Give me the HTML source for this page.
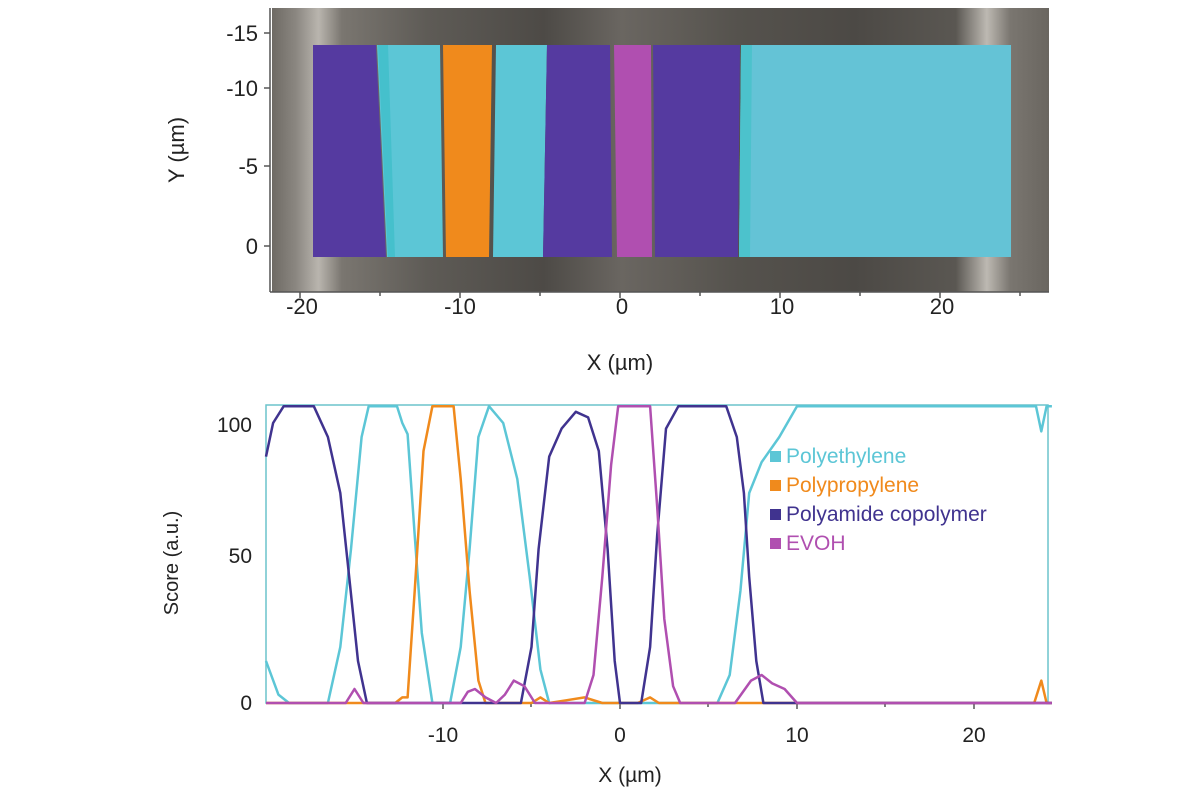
<!DOCTYPE html>
<html><head><meta charset="utf-8"><style>
body{margin:0;background:#fff;width:1200px;height:800px;overflow:hidden}
svg{display:block}
text{font-family:"Liberation Sans",sans-serif}
</style></head><body>
<svg id="s" width="1200" height="800" viewBox="0 0 1200 800">
<defs>
<linearGradient id="bg" x1="0" x2="1" y1="0" y2="0">
<stop offset="0" stop-color="#6e6a64"/>
<stop offset="0.03" stop-color="#8a8680"/>
<stop offset="0.06" stop-color="#b9b5ae"/>
<stop offset="0.09" stop-color="#7a7670"/>
<stop offset="0.2" stop-color="#5e5b56"/>
<stop offset="0.35" stop-color="#4d4a46"/>
<stop offset="0.45" stop-color="#6a6661"/>
<stop offset="0.6" stop-color="#55524d"/>
<stop offset="0.75" stop-color="#4c4945"/>
<stop offset="0.88" stop-color="#5a5752"/>
<stop offset="0.92" stop-color="#bdb9b2"/>
<stop offset="0.95" stop-color="#7a7670"/>
<stop offset="1" stop-color="#6a6660"/>
</linearGradient>
</defs>
<rect x="272" y="8" width="777" height="284" fill="url(#bg)"/>
<polygon points="313,45 376,45 386,257 313,257" fill="#553aa0"/>
<polygon points="377,45 440,45 443,257 387,257" fill="#5cc6d6"/>
<polygon points="378,45 388,45 395,257 388,257" fill="#45c0cc"/>
<polygon points="443,45 492,45 489,257 446,257" fill="#f08a1c"/>
<polygon points="496,45 547,45 543,257 493,257" fill="#5cc6d6"/>
<polygon points="547,45 610,45 612,257 543,257" fill="#553aa0"/>
<polygon points="614,45 651,45 652,257 617,257" fill="#b04fb0"/>
<polygon points="653,45 740,45 738,257 655,257" fill="#553aa0"/>
<polygon points="741,45 1011,45 1011,257 739,257" fill="#64c3d6"/>
<polygon points="741,45 752,45 750,257 739,257" fill="#4cc2cc"/>
<g stroke="#555" stroke-width="1.5">
<line x1="270" y1="8" x2="270" y2="292"/>
<line x1="270" y1="292" x2="1049" y2="292"/>
<line x1="264" y1="33" x2="270" y2="33"/><line x1="264" y1="88" x2="270" y2="88"/>
<line x1="264" y1="166" x2="270" y2="166"/><line x1="264" y1="246" x2="270" y2="246"/>
<line x1="300" y1="292" x2="300" y2="298"/><line x1="460" y1="292" x2="460" y2="298"/>
<line x1="620" y1="292" x2="620" y2="298"/><line x1="780" y1="292" x2="780" y2="298"/>
<line x1="940" y1="292" x2="940" y2="298"/>
<line x1="380" y1="292" x2="380" y2="296"/><line x1="540" y1="292" x2="540" y2="296"/>
<line x1="700" y1="292" x2="700" y2="296"/><line x1="860" y1="292" x2="860" y2="296"/>
<line x1="1020" y1="292" x2="1020" y2="296"/>
</g>
<g font-size="22" fill="#222" text-anchor="end">
<text x="258" y="41">-15</text><text x="258" y="96">-10</text>
<text x="258" y="174">-5</text><text x="258" y="254">0</text>
</g>
<g font-size="22" fill="#222" text-anchor="middle">
<text x="302" y="314">-20</text><text x="460" y="314">-10</text>
<text x="622" y="314">0</text><text x="782" y="314">10</text><text x="942" y="314">20</text>
<text x="620" y="370">X (µm)</text>
</g>
<text font-size="22" fill="#222" text-anchor="middle" transform="translate(184,150) rotate(-90)">Y (µm)</text>

<rect x="266" y="405" width="782" height="298" fill="#fff" stroke="#6cc4cc" stroke-width="1.5"/>
<g stroke="#555" stroke-width="1.5">
<line x1="266" y1="703" x2="1048" y2="703"/>
<line x1="443" y1="703" x2="443" y2="709"/><line x1="620" y1="703" x2="620" y2="709"/>
<line x1="797" y1="703" x2="797" y2="709"/><line x1="974" y1="703" x2="974" y2="709"/>
<line x1="531" y1="703" x2="531" y2="707"/><line x1="708" y1="703" x2="708" y2="707"/>
<line x1="885" y1="703" x2="885" y2="707"/>
</g>
<g font-size="21" fill="#222" text-anchor="end">
<text x="252" y="432">100</text><text x="252" y="563">50</text><text x="252" y="710">0</text>
</g>
<g font-size="21" fill="#222" text-anchor="middle">
<text x="443" y="742">-10</text><text x="620" y="742">0</text>
<text x="797" y="742">10</text><text x="974" y="742">20</text>
<text x="630" y="782">X (µm)</text>
</g>
<text font-size="20" fill="#222" text-anchor="middle" transform="translate(178,563) rotate(-90)">Score (a.u.)</text>
<g id="curves" fill="none" stroke-width="2.5" stroke-linejoin="round"></g>
<g font-size="21">
<rect x="770" y="451" width="11" height="11" fill="#5cc6d6"/><text x="786" y="463" fill="#5cc6d6">Polyethylene</text>
<rect x="770" y="480" width="11" height="11" fill="#f08a1c"/><text x="786" y="492" fill="#f08a1c">Polypropylene</text>
<rect x="770" y="509" width="11" height="11" fill="#40338f"/><text x="786" y="521" fill="#40338f">Polyamide copolymer</text>
<rect x="770" y="538" width="11" height="11" fill="#b04fb0"/><text x="786" y="550" fill="#b04fb0">EVOH</text>
</g>
</svg>
<script>
function X(v){return 620+17.7*v}
function Y(s){return 703-2.8*s}
var series=[
["#5cc6d6",[[-20,15],[-19.3,3],[-18.7,0],[-16.5,0],[-15.8,20],[-15.2,55],[-14.6,95],[-14.2,106],[-12.6,106],[-12.3,100],[-12,96],[-11.6,60],[-11.2,25],[-10.6,0],[-9.6,0],[-9,20],[-8.5,55],[-8,95],[-7.4,106],[-6.6,100],[-5.8,80],[-5.1,45],[-4.5,12],[-4,0],[5.5,0],[6.2,10],[6.8,40],[7.3,75],[8,86],[9,95],[10,106],[23.5,106],[23.8,97],[24.1,106],[24.4,106]]],
["#f08a1c",[[-20,0],[-12.7,0],[-12.3,2],[-12,2],[-11.6,40],[-11.1,90],[-10.6,106],[-9.4,106],[-9,80],[-8.5,40],[-8,8],[-7.6,0],[-5,0],[-4.5,2],[-4,0],[-3,1],[-2,2],[-1,0],[1,0],[1.7,2],[2.2,0],[23.4,0],[23.8,8],[24.1,0],[24.4,0]]],
["#40338f",[[-20,88],[-19.6,100],[-19,106],[-17.3,106],[-16.5,95],[-15.8,75],[-15.3,45],[-14.8,15],[-14.3,0],[-5.6,0],[-5,20],[-4.6,55],[-4,88],[-3.3,98],[-2.5,104],[-1.8,102],[-1.2,90],[-0.7,55],[-0.3,15],[0,0],[1.2,0],[1.7,20],[2.1,60],[2.6,98],[3.3,106],[6,106],[6.6,95],[7,75],[7.3,45],[7.7,15],[8.1,0],[24.4,0]]],
["#b04fb0",[[-20,0],[-15.5,0],[-15,5],[-14.5,0],[-13,0],[-9,0],[-8.6,4],[-8.2,5],[-7.6,2],[-7,0],[-6.5,3],[-6,8],[-5.4,6],[-4.8,0],[-2,0],[-1.5,10],[-1,45],[-0.5,85],[-0.1,106],[1.7,106],[2.1,70],[2.5,30],[3,6],[3.4,0],[6.5,0],[7.4,8],[8,10],[8.6,7],[9.3,5],[10,0],[24.4,0]]]
];
var g=document.getElementById("curves");
series.forEach(function(s){var p=document.createElementNS("http://www.w3.org/2000/svg","polyline");
p.setAttribute("points",s[1].map(function(q){return X(q[0]).toFixed(1)+","+Y(q[1]).toFixed(1)}).join(" "));
p.setAttribute("stroke",s[0]);g.appendChild(p);});
</script>
</body></html>
